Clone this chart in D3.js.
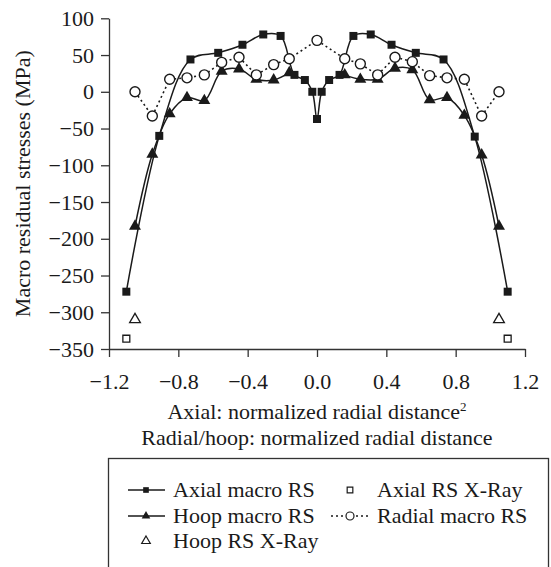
<!DOCTYPE html>
<html>
<head>
<meta charset="utf-8">
<script src="https://cdn.jsdelivr.net/npm/d3@7"></script>
<style>
  html, body { margin: 0; padding: 0; background: #fff; }
  svg { display: block; }
</style>
</head>
<body>
<div id="chart"></div>
<script>
// values
const x_ticks = [-1.2, -0.8, -0.4, 0.0, 0.4, 0.8, 1.2];
const y_ticks = [100, 50, 0, -50, -100, -150, -200, -250, -300, -350];

const axial_x = [-1.1, -0.91, -0.73, -0.57, -0.43, -0.31, -0.21, -0.13, -0.07, -0.027, 0,
                 0.027, 0.07, 0.13, 0.21, 0.31, 0.43, 0.57, 0.73, 0.91, 1.1];
const axial_rs = [-272, -60, 44, 53, 64, 78, 76, 23, 16, 0, -37,
                  0, 16, 23, 76, 78, 64, 53, 44, -61, -272];

const hoop_left_x = [-1.05, -0.95, -0.85, -0.75, -0.65, -0.55, -0.45, -0.35, -0.25, -0.16];
const hoop_left_rs = [-183, -85, -30, -8, -12, 28, 31, 17, 16, 26];
const hoop_right_x = [0.16, 0.25, 0.35, 0.45, 0.55, 0.65, 0.75, 0.85, 0.95, 1.05];
const hoop_right_rs = [23, 17, 17, 32, 30, -11, -8, -32, -86, -183];

const radial_x = [-1.05, -0.95, -0.85, -0.75, -0.65, -0.55, -0.45, -0.35, -0.25, -0.16, 0,
                  0.16, 0.25, 0.35, 0.45, 0.55, 0.65, 0.75, 0.85, 0.95, 1.05];
const radial_rs = [0, -33, 17, 19, 23, 40, 47, 23, 37, 45, 70,
                   45, 38, 23, 47, 41, 22, 19, 17, -33, 0];

const axial_xray_x = [-1.1, 1.1];
const axial_xray_rs = [-336, -336];
const hoop_xray_x = [-1.05, 1.05];
const hoop_xray_rs = [-310, -310];

const legend_left = ["Axial macro RS", "Hoop macro RS", "Hoop RS X-Ray"];
const legend_right = ["Axial RS X-Ray", "Radial macro RS"];

const width = 551, height = 567;
const font = "'Liberation Serif', 'Times New Roman', serif";
const font_size = 22;
const ink = "#1a1a1a";

const x = d3.scaleLinear().domain([-1.2, 1.2]).range([109, 525]);
const y = d3.scaleLinear().domain([-350, 100]).range([349, 18.3]);

const signed = (text, v) => (v < 0 ? "\u2212" : "") + text;
const zip = (xs, ys) => xs.map((v, i) => [v, ys[i]]);

const svg = d3.select("#chart").append("svg")
  .attr("width", width)
  .attr("height", height)
  .attr("font-family", font);

function style_axis(g) {
  g.attr("font-family", font).attr("font-size", font_size);
  g.selectAll("path, line").attr("stroke", "#333").attr("stroke-width", 1.3);
  g.selectAll("text").attr("fill", ink);
}

svg.append("g")
  .attr("transform", `translate(0,${y(-350)})`)
  .call(d3.axisBottom(x).tickValues(x_ticks).tickSize(8).tickSizeOuter(0)
    .tickFormat((v) => signed(Math.abs(v).toFixed(1), v)))
  .call(style_axis)
  .call((g) => g.selectAll("text").attr("y", 24).attr("dy", "0.71em"));

svg.append("g")
  .attr("transform", `translate(${x(-1.2)},0)`)
  .call(d3.axisLeft(y).tickValues(y_ticks).tickSize(8).tickSizeOuter(0)
    .tickFormat((v) => signed(String(Math.abs(v)), v)))
  .call(style_axis)
  .call((g) => g.selectAll("text").attr("x", -15));

svg.append("text")
  .attr("transform", `translate(22,${(y(100) + y(-350)) / 2}) rotate(-90)`)
  .attr("text-anchor", "middle")
  .attr("dy", "0.35em")
  .attr("font-size", font_size)
  .attr("fill", ink)
  .text("Macro residual stresses (MPa)");

const title1 = svg.append("text")
  .attr("x", 317).attr("y", 419)
  .attr("text-anchor", "middle")
  .attr("font-size", font_size)
  .attr("fill", ink);
title1.append("tspan").text("Axial: normalized radial distance");
title1.append("tspan").attr("font-size", 13).attr("dy", -8).text("2");

svg.append("text")
  .attr("x", 317).attr("y", 445)
  .attr("text-anchor", "middle")
  .attr("font-size", font_size)
  .attr("fill", ink)
  .text("Radial/hoop: normalized radial distance");

// lines
const smooth = d3.line().x((d) => x(d[0])).y((d) => y(d[1])).curve(d3.curveCatmullRom);
const straight = d3.line().x((d) => x(d[0])).y((d) => y(d[1]));

const plot = svg.append("g");
plot.append("path").attr("d", straight(zip(radial_x, radial_rs)))
  .attr("fill", "none").attr("stroke", ink).attr("stroke-width", 1.6).attr("stroke-dasharray", "2 3");
plot.append("path").attr("d", smooth(zip(hoop_left_x, hoop_left_rs)))
  .attr("fill", "none").attr("stroke", ink).attr("stroke-width", 1.5);
plot.append("path").attr("d", smooth(zip(hoop_right_x, hoop_right_rs)))
  .attr("fill", "none").attr("stroke", ink).attr("stroke-width", 1.5);
plot.append("path").attr("d", smooth(zip(axial_x, axial_rs)))
  .attr("fill", "none").attr("stroke", ink).attr("stroke-width", 1.5);

const tri = d3.symbol().type(d3.symbolTriangle).size(62);
const sq = d3.symbol().type(d3.symbolSquare).size(64);
const tri_open = d3.symbol().type(d3.symbolTriangle).size(50);
const sq_open = d3.symbol().type(d3.symbolSquare).size(48);

plot.append("g").selectAll("path")
  .data(zip(hoop_left_x, hoop_left_rs).concat(zip(hoop_right_x, hoop_right_rs)))
  .join("path")
  .attr("transform", (d) => `translate(${x(d[0])},${y(d[1])})`)
  .attr("d", tri).attr("fill", ink);

plot.append("g").selectAll("path")
  .data(zip(axial_x, axial_rs))
  .join("path")
  .attr("transform", (d) => `translate(${x(d[0])},${y(d[1])})`)
  .attr("d", sq).attr("fill", ink);

plot.append("g").selectAll("circle")
  .data(zip(radial_x, radial_rs))
  .join("circle")
  .attr("cx", (d) => x(d[0])).attr("cy", (d) => y(d[1]))
  .attr("r", 5).attr("fill", "#fff").attr("stroke", ink).attr("stroke-width", 1.4);

plot.append("g").selectAll("path")
  .data(zip(hoop_xray_x, hoop_xray_rs))
  .join("path")
  .attr("transform", (d) => `translate(${x(d[0])},${y(d[1])})`)
  .attr("d", tri_open).attr("fill", "#fff").attr("stroke", ink).attr("stroke-width", 1.3);

plot.append("g").selectAll("path")
  .data(zip(axial_xray_x, axial_xray_rs))
  .join("path")
  .attr("transform", (d) => `translate(${x(d[0])},${y(d[1])})`)
  .attr("d", sq_open).attr("fill", "#fff").attr("stroke", ink).attr("stroke-width", 1.3);

// legend
const legend = svg.append("g");
legend.append("rect")
  .attr("x", 108.5).attr("y", 458.5).attr("width", 440).attr("height", 120)
  .attr("fill", "none").attr("stroke", "#333").attr("stroke-width", 1.3);

const row_y = [490, 516, 541];
legend_left.forEach((label, i) => {
  const cy = row_y[i];
  if (i < 2) {
    legend.append("line").attr("x1", 128).attr("x2", 165).attr("y1", cy).attr("y2", cy)
      .attr("stroke", ink).attr("stroke-width", 1.5);
  }
  legend.append("path")
    .attr("transform", `translate(146,${cy})`)
    .attr("d", d3.symbol().type(i === 0 ? d3.symbolSquare : d3.symbolTriangle).size(32)())
    .attr("fill", i < 2 ? ink : "#fff")
    .attr("stroke", ink).attr("stroke-width", i < 2 ? 0 : 1.2);
  legend.append("text").attr("x", 173).attr("y", cy).attr("dy", "0.33em")
    .attr("font-size", font_size).attr("fill", ink).text(label);
});

legend_right.forEach((label, i) => {
  const cy = row_y[i];
  if (i === 0) {
    legend.append("path")
      .attr("transform", `translate(350,${cy})`)
      .attr("d", d3.symbol().type(d3.symbolSquare).size(32)())
      .attr("fill", "#fff").attr("stroke", ink).attr("stroke-width", 1.2);
  } else {
    legend.append("line").attr("x1", 331).attr("x2", 368).attr("y1", cy).attr("y2", cy)
      .attr("stroke", ink).attr("stroke-width", 1.5).attr("stroke-dasharray", "2 3");
    legend.append("circle").attr("cx", 350).attr("cy", cy).attr("r", 4)
      .attr("fill", "#fff").attr("stroke", ink).attr("stroke-width", 1.2);
  }
  legend.append("text").attr("x", 377).attr("y", cy).attr("dy", "0.33em")
    .attr("font-size", font_size).attr("fill", ink).text(label);
});
</script>
</body>
</html>
